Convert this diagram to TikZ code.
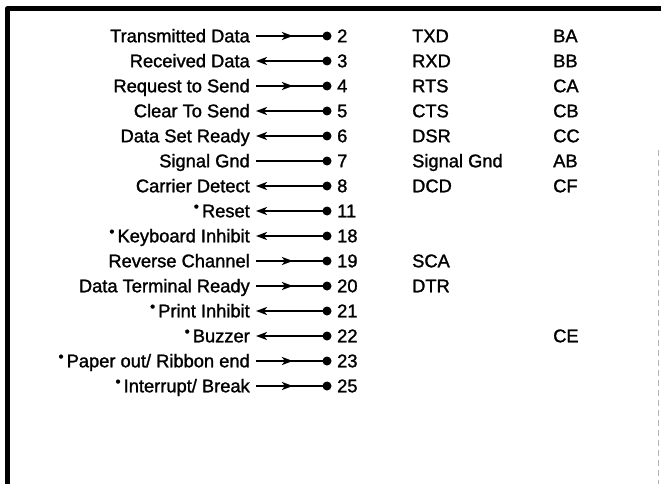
\documentclass[tikz,border=0pt]{standalone}
\usepackage{fontspec}
\setmainfont{Liberation Sans}[FakeBold=1.4]
\usetikzlibrary{arrows.meta,decorations.markings}
\newcommand\mk{\raisebox{0.6ex}{\scalebox{0.8}{•}}\,}
\tikzset{
  txt/.style={inner xsep=0pt, inner ysep=0pt, text height=12.5pt, text depth=0pt,
              font=\fontsize{18.3}{21}\selectfont},
  lab/.style={txt, anchor=east},
  num/.style={txt, anchor=west},
  pindot/.style={circle, fill=black, inner sep=0pt, minimum size=9pt},
  wire/.style={line width=2pt},
  tipl/.style={wire, {Stealth[length=11pt,width=8pt,inset=3pt]}-},
  midarrow/.style={wire, postaction={decorate},
     decoration={markings, mark=at position 0.52 with {\arrow{Stealth[length=11pt,width=8pt,inset=3pt]}}}},
}
\newcommand\myrow[5]{%
  \node[lab] (l#1) at (250,#2) {#3};
  \coordinate (s#1) at (256,#2);
  \node[pindot] (d#1) at (327,#2) {};
  \node[num] (n#1) at (337,#2) {#5};
  \ifx#4R\draw[midarrow] (s#1) -- (d#1.center);\fi
  \ifx#4L\draw[tipl] (s#1) -- (d#1.center);\fi
  \ifx#4N\draw[wire] (s#1) -- (d#1.center);\fi
}
\begin{document}
\begin{tikzpicture}[x=1pt,y=-1pt]
\useasboundingbox (0,0) rectangle (661,484);
% frame
\draw[line width=5pt, line join=round] (7,484) -- (7,9) -- (661,9);
\draw[gray!60, line width=0.7pt, dash pattern=on 6pt off 4pt] (658,150) -- (658,484);
% rows
\myrow{1}{36}{Transmitted Data}{R}{2}
\myrow{2}{61}{Received Data}{L}{3}
\myrow{3}{86}{Request to Send}{R}{4}
\myrow{4}{111}{Clear To Send}{L}{5}
\myrow{5}{136}{Data Set Ready}{L}{6}
\myrow{6}{161}{Signal Gnd}{N}{7}
\myrow{7}{186}{Carrier Detect}{L}{8}
\myrow{8}{211}{\mk Reset}{L}{11}
\myrow{9}{236}{\mk Keyboard Inhibit}{L}{18}
\myrow{10}{261}{Reverse Channel}{R}{19}
\myrow{11}{286}{Data Terminal Ready}{R}{20}
\myrow{12}{311}{\mk Print Inhibit}{L}{21}
\myrow{13}{336}{\mk Buzzer}{L}{22}
\myrow{14}{361}{\mk Paper out/ Ribbon end}{R}{23}
\myrow{15}{386}{\mk Interrupt/ Break}{R}{25}
% mnemonic column
\node[num] (m1) at (412,36) {TXD};
\node[num] (m2) at (412,61) {RXD};
\node[num] (m3) at (412,86) {RTS};
\node[num] (m4) at (412,111) {CTS};
\node[num] (m5) at (412,136) {DSR};
\node[num] (m6) at (412,161) {Signal Gnd};
\node[num] (m7) at (412,186) {DCD};
\node[num] (m10) at (412,261) {SCA};
\node[num] (m11) at (412,286) {DTR};
% EIA column
\node[num] (e1) at (553,36) {BA};
\node[num] (e2) at (553,61) {BB};
\node[num] (e3) at (553,86) {CA};
\node[num] (e4) at (553,111) {CB};
\node[num] (e5) at (553,136) {CC};
\node[num] (e6) at (553,161) {AB};
\node[num] (e7) at (553,186) {CF};
\node[num] (e13) at (553,336) {CE};
\end{tikzpicture}
\end{document}
